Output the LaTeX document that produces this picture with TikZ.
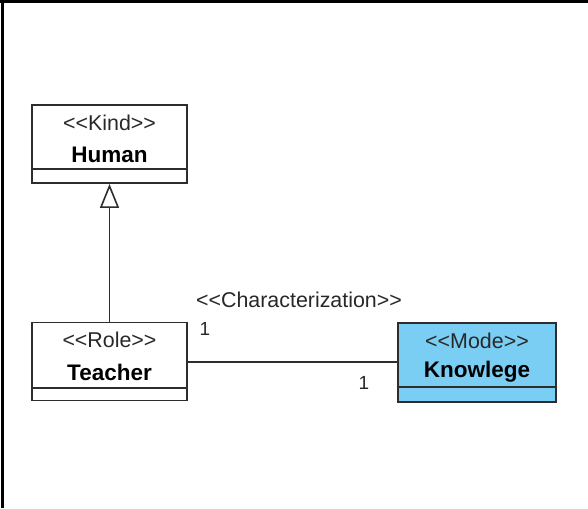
\documentclass[tikz,border=0pt]{standalone}
\usepackage{fontspec}
\setmainfont{Liberation Sans}
\usetikzlibrary{arrows.meta}
\definecolor{modeblue}{RGB}{122,206,244}
\definecolor{umlline}{RGB}{45,45,45}
\definecolor{stereo}{RGB}{40,40,40}
% stereotype brackets, kept apart so they are not turned into guillemets
\newcommand{\stereo}[1]{{<}{<}#1{>}{>}}
\begin{document}
\begin{tikzpicture}[x=1pt,y=-1pt,
  classbox/.style={draw=umlline,line width=1.8pt,rectangle,minimum width=155pt,minimum height=78pt,inner sep=0pt},
  stereotype/.style={font=\fontsize{21.4}{24}\selectfont,text=stereo,inner sep=0pt,anchor=center},
  classname/.style={font=\fontsize{22.5}{25}\selectfont\bfseries,text=black,inner sep=0pt,anchor=center},
  mult/.style={font=\fontsize{19}{22}\selectfont,text=stereo,inner sep=0pt,anchor=center},
  conn/.style={draw=umlline,line width=1.8pt}]
\useasboundingbox (0,0) rectangle (588,508);
% outer frame: top and left edges only
\draw[line width=3pt] (0,1.5) -- (588,1.5);
\draw[line width=3pt] (2,0) -- (2,508);

% class Human
\node[classbox] (human) at (109.5,144) {};
\draw[conn] ([yshift=15pt]human.south west) -- ([yshift=15pt]human.south east);
\node[stereotype] (humanst) at (109.5,123) {\stereo{Kind}};
\node[classname] (humanname) at (109.5,155) {Human};

% class Teacher
\node[classbox] (teacher) at (109.5,361.5) {};
\draw[conn] ([yshift=13.5pt]teacher.south west) -- ([yshift=13.5pt]teacher.south east);
\node[stereotype] (teacherst) at (109.5,340) {\stereo{Role}};
\node[classname] (teachername) at (109.5,372) {Teacher};

% class Knowlege
\node[classbox,fill=modeblue,minimum width=158pt,minimum height=79pt] (know) at (477,362.5) {};
\draw[conn] ([yshift=16pt]know.south west) -- ([yshift=16pt]know.south east);
\node[stereotype] (knowst) at (477,341) {\stereo{Mode}};
\node[classname] (knowname) at (477,372) {Knowlege};

% generalization Teacher -> Human
\draw[conn,-{Triangle[open,length=24pt,width=19pt,line width=1.6pt]}] (teacher.north) -- (human.south);

% characterization association
\draw[conn] (teacher.east |- 0,362) -- (know.west |- 0,362);
\node[stereotype] (charlabel) at (299,300) {\stereo{Characterization}};
\node[mult] (multa) at (205,329) {1};
\node[mult] (multb) at (364,383) {1};
\end{tikzpicture}
\end{document}
